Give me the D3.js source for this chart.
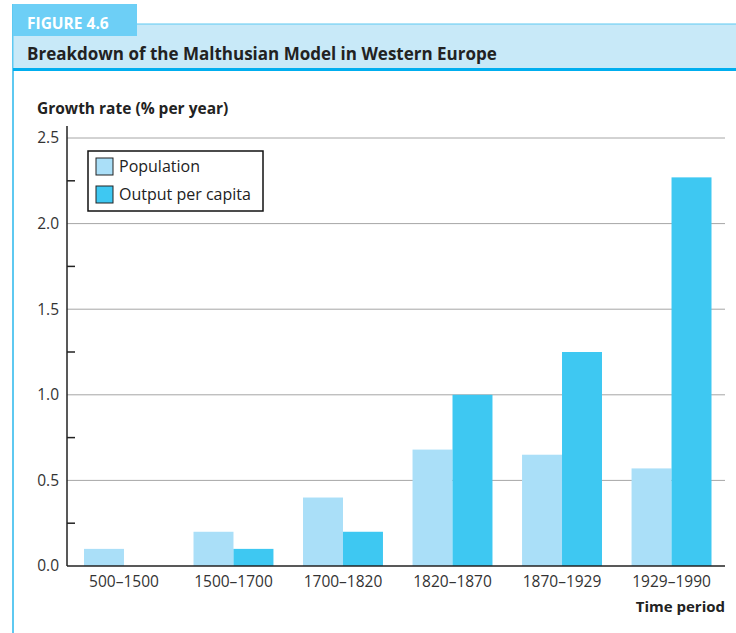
<!DOCTYPE html>
<html>
<head>
<meta charset="utf-8">
<script src="https://cdn.jsdelivr.net/npm/d3@7"></script>
<style>
body{margin:0;background:#fff;}
text{font-family:"Open Sans","Noto Sans",sans-serif;fill:#222;}
</style>
</head>
<body>
<svg id="chart" width="736" height="633"></svg>
<script>
var periods=["500–1500","1500–1700","1700–1820","1820–1870","1870–1929","1929–1990"];
var population=[0.1,0.2,0.4,0.68,0.65,0.57];
var outputPerCapita=[0,0.1,0.2,1.0,1.25,2.27];
var seriesNames=["Population","Output per capita"];
var yTicks=[0,0.5,1.0,1.5,2.0,2.5];
var yMinorTicks=[0.25,0.75,1.25,1.75,2.25];

var colors=["#aadff8","#3ec8f2"];

var svg=d3.select("#chart");

// frame: left rule, title band, figure tab
svg.append("rect").attr("x",12).attr("y",4).attr("width",2).attr("height",640).attr("fill","#5ec9f1");
svg.append("rect").attr("x",13).attr("y",24).attr("width",730).attr("height",45)
	.attr("fill","#c8e9f8").attr("stroke","#5ec9f1").attr("stroke-width",1);
svg.append("rect").attr("x",13).attr("y",68).attr("width",730).attr("height",3).attr("fill","#00aeef");
svg.append("rect").attr("x",13).attr("y",4).attr("width",124).attr("height",32).attr("fill","#6dcff6");
svg.append("text").attr("x",27).attr("y",29).text("FIGURE 4.6")
	.style("fill","#fff").attr("font-weight","bold").attr("font-size","15.5px");
svg.append("text").attr("x",27).attr("y",60).text("Breakdown of the Malthusian Model in Western Europe")
	.attr("font-weight","bold").attr("font-size","17px");

var plotLeft=67, plotRight=725, plotTop=138, plotBottom=566;

var yScale=d3.scaleLinear().domain([0,2.5]).range([plotBottom,plotTop]);
var xScale=d3.scaleBand().domain(periods).range([84,711.5]).paddingInner(0.27).paddingOuter(0);
var inner=d3.scaleBand().domain(seriesNames).range([0,xScale.bandwidth()]);

// gridlines
svg.append("g").selectAll("line").data(yTicks.slice(1)).join("line")
	.attr("x1",plotLeft).attr("x2",plotRight)
	.attr("y1",d=>yScale(d)).attr("y2",d=>yScale(d))
	.attr("stroke","#a6a6a6").attr("stroke-width",1);

// bars
var rows=periods.map((p,i)=>({period:p,values:[population[i],outputPerCapita[i]]}));
var groups=svg.append("g").selectAll("g").data(rows).join("g")
	.attr("transform",d=>"translate("+xScale(d.period)+",0)");
groups.selectAll("rect").data(d=>d.values.map((v,j)=>({name:seriesNames[j],value:v,j:j})))
	.join("rect")
	.filter(d=>d.value>0)
	.attr("x",d=>inner(d.name))
	.attr("y",d=>yScale(d.value))
	.attr("width",inner.bandwidth())
	.attr("height",d=>plotBottom-yScale(d.value))
	.attr("fill",d=>colors[d.j]);

// y axis
var yAxis=d3.axisLeft(yScale).tickValues(yTicks).tickFormat(d3.format(".1f")).tickSize(0).tickPadding(8);
var gy=svg.append("g").attr("transform","translate("+plotLeft+",0)").call(yAxis);
gy.select(".domain").remove();
svg.append("line").attr("x1",plotLeft).attr("x2",plotLeft).attr("y1",plotTop-12).attr("y2",plotBottom)
	.attr("stroke","#222").attr("stroke-width",1.5);
gy.selectAll("text").attr("font-size","15.5px").style("font-family","'Open Sans',sans-serif").style("fill","#333");
svg.append("g").selectAll("line").data(yMinorTicks).join("line")
	.attr("x1",plotLeft).attr("x2",plotLeft+8)
	.attr("y1",d=>yScale(d)).attr("y2",d=>yScale(d))
	.attr("stroke","#222").attr("stroke-width",1.5);

// x axis
var xAxis=d3.axisBottom(xScale).tickSize(0).tickPadding(10);
var gx=svg.append("g").attr("transform","translate(0,"+plotBottom+")").call(xAxis);
gx.select(".domain").remove();
svg.append("line").attr("x1",plotLeft).attr("x2",plotRight).attr("y1",plotBottom).attr("y2",plotBottom)
	.attr("stroke","#222").attr("stroke-width",1.5);
gx.selectAll("text").attr("font-size","15.5px").style("font-family","'Open Sans',sans-serif").style("fill","#333");

// axis titles
svg.append("text").attr("x",37).attr("y",114).text("Growth rate (% per year)")
	.attr("font-weight","bold").attr("font-size","15.5px");
svg.append("text").attr("x",725).attr("y",612).attr("text-anchor","end").text("Time period")
	.attr("font-weight","bold").attr("font-size","15px");

// legend
var legend=svg.append("g");
legend.append("rect").attr("x",88).attr("y",151).attr("width",175).attr("height",60)
	.attr("fill","#fff").attr("stroke","#111").attr("stroke-width",1.5);
var items=legend.selectAll("g").data(seriesNames).join("g")
	.attr("transform",(d,i)=>"translate(96,"+(158+i*28)+")");
items.append("rect").attr("width",17).attr("height",17)
	.attr("fill",(d,i)=>colors[i]).attr("stroke","#222").attr("stroke-width",1);
items.append("text").attr("x",23).attr("y",14).text(d=>d).attr("font-size","16px");
</script>
</body>
</html>
